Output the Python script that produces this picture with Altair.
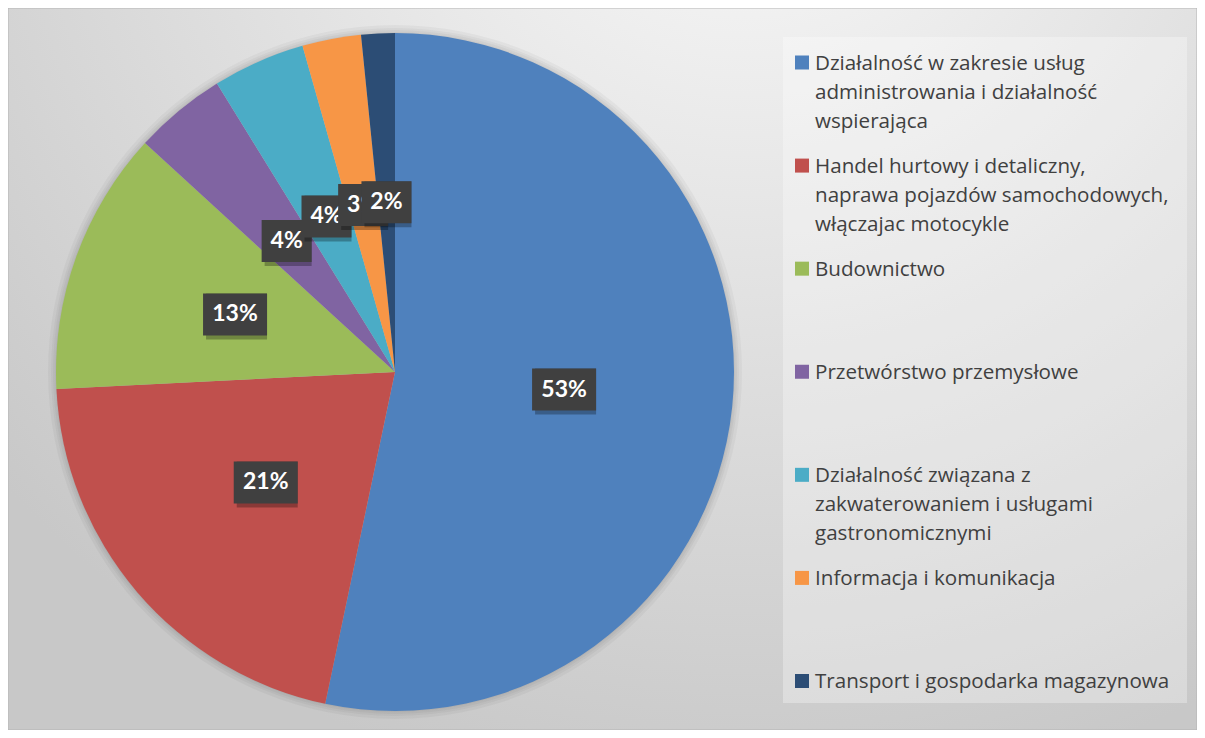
import altair as alt
import pandas as pd

categories = [
    "Działalność w zakresie usług\nadministrowania i działalność\nwspierająca",
    "Handel hurtowy i detaliczny,\nnaprawa pojazdów samochodowych,\nwłączajac motocykle",
    "Budownictwo",
    "Przetwórstwo przemysłowe",
    "Działalność związana z\nzakwaterowaniem i usługami\ngastronomicznymi",
    "Informacja i komunikacja",
    "Transport i gospodarka magazynowa",
]
values = [53.3, 20.9, 12.6, 4.4, 4.4, 2.8, 1.6]
colors = ["#4F81BD", "#C0504D", "#9BBB59", "#8064A2", "#4BACC6", "#F79646", "#2C4D75"]

df = pd.DataFrame({"idx": list(range(len(categories))), "category": categories, "value": values})

W, H = 1189, 722
CX, CY, R = 387, 364, 339
LR = 170
FONT = "Lato"
LEG_FONT = "Open Sans"

base = alt.Chart(df)
one = alt.Chart(pd.DataFrame({"a": [0]}))

grad = alt.RadialGradient(
    gradient="radial",
    stops=[alt.GradientStop(color="#fbfbfb", offset=0),
           alt.GradientStop(color="#e4e4e4", offset=0.45),
           alt.GradientStop(color="#c8c8c8", offset=1)],
    x1=0.62, y1=0.02, r1=0, x2=0.62, y2=0.02, r2=0.85,
)
bg = one.mark_rect(fill=grad, stroke="#b5b5b5", strokeWidth=1).encode(
    x=alt.value(0), x2=alt.value(W), y=alt.value(0), y2=alt.value(H))

halos = [
    one.mark_arc(theta=0, theta2=6.2832, outerRadius=R + k, color="black", opacity=0.035).encode(
        x=alt.value(CX), y=alt.value(CY))
    for k in (8, 5, 3, 1)
]

color = alt.Color("category:N", scale=alt.Scale(domain=categories, range=colors), legend=None)

pie = base.mark_arc(outerRadius=R).encode(
    theta=alt.Theta("value:Q", stack=True),
    color=color,
    order=alt.Order("idx:Q"),
    x=alt.value(CX), y=alt.value(CY),
)

lab = base.transform_joinaggregate(total="sum(value)").transform_window(
    cum="sum(value)", sort=[alt.SortField("idx")], frame=[None, 0]
).transform_calculate(
    mid="2*PI*(datum.cum - datum.value/2)/datum.total"
).transform_calculate(
    lx=f"{LR}*sin(datum.mid)", ly=f"{LR}*cos(datum.mid)",
    label="format(datum.value/datum.total, '.0%')"
).transform_calculate(
    bw="14*length(datum.label)+22"
).transform_calculate(
    bx1="datum.lx - datum.bw/2", bx2="datum.lx + datum.bw/2",
    by1="datum.ly - 21", by2="datum.ly + 21",
)

xs = alt.Scale(domain=[-R, R], range=[CX - R, CX + R])
ys = alt.Scale(domain=[-R, R], range=[CY + R, CY - R])

label_layers = []
for i in range(len(categories)):
    sub = lab.transform_filter(f"datum.idx == {i}")
    renc = dict(x=alt.X("bx1:Q", scale=xs, axis=None), x2="bx2:Q",
                y=alt.Y("by1:Q", scale=ys, axis=None), y2="by2:Q")
    shadow = sub.mark_rect(color="black", opacity=0.28, xOffset=3, yOffset=4).encode(**renc)
    box = sub.mark_rect(color="#404040").encode(**renc)
    txt = sub.mark_text(color="white", font=FONT, fontWeight="bold", fontSize=23,
                        baseline="middle", align="center").encode(
        x=alt.X("lx:Q", scale=xs, axis=None), y=alt.Y("ly:Q", scale=ys, axis=None),
        text="label:N")
    label_layers += [shadow, box, txt]

leg_box = one.mark_rect(color="white", opacity=0.3).encode(
    x=alt.value(775), x2=alt.value(1179), y=alt.value(29), y2=alt.value(695))

ly_scale = alt.Scale(domain=[0, len(categories) - 1], range=[54.5, 673])
leg_sq = base.mark_square(size=196, opacity=1, filled=True).encode(
    x=alt.value(794), y=alt.Y("idx:Q", scale=ly_scale, axis=None), color=color)
leg_text = base.mark_text(align="left", baseline="alphabetic", dy=7, lineBreak="\n",
                          lineHeight=29, fontSize=20.6, font=LEG_FONT, color="#404040").encode(
    x=alt.value(807), y=alt.Y("idx:Q", scale=ly_scale, axis=None), text="category:N")

chart = alt.layer(bg, *halos, pie, leg_box, leg_sq, leg_text, *label_layers).resolve_scale(
    x="independent", y="independent"
).properties(
    width=W, height=H, padding=0, autosize="none", background="white"
).configure_view(stroke=None)

chart.save("out.html", embed_options={"renderer": "svg", "actions": False})
